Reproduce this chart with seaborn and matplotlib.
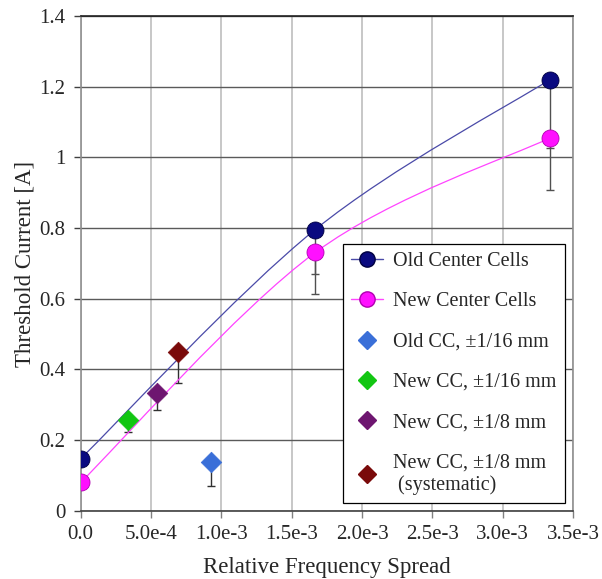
import numpy as np
import seaborn as sns
import matplotlib.pyplot as plt
from matplotlib.path import Path
from matplotlib.patches import PathPatch
from matplotlib.lines import Line2D

# center cell measurements
spread_cc = [0.0, 1.667e-3, 3.333e-3]
old_cc = [0.147, 0.796, 1.220]
old_cc_err = [0.0, 0.126, 0.193]
new_cc = [0.080, 0.731, 1.055]
new_cc_err = [0.0, 0.118, 0.146]

# single-point runs with cell tolerances
diamond_labels = ['Old CC, \u00b11/16 mm', 'New CC, \u00b11/16 mm',
                  'New CC, \u00b11/8 mm', 'New CC, \u00b11/8 mm\n (systematic)']
diamond_x = [9.23e-4, 3.38e-4, 5.40e-4, 6.93e-4]
diamond_y = [0.139, 0.257, 0.332, 0.448]
diamond_err = [0.068, 0.035, 0.047, 0.087]
diamond_colors = ['#3A6FD8', '#12C612', '#6E1670', '#7A0A0A']

x_ticks = [0.0, 5e-4, 1e-3, 1.5e-3, 2e-3, 2.5e-3, 3e-3, 3.5e-3]
x_tick_labels = ['0.0', '5.0e-4', '1.0e-3', '1.5e-3', '2.0e-3', '2.5e-3', '3.0e-3', '3.5e-3']
y_ticks = [0, 0.2, 0.4, 0.6, 0.8, 1.0, 1.2, 1.4]
y_tick_labels = ['0', '0.2', '0.4', '0.6', '0.8', '1', '1.2', '1.4']

sns.set_theme(style='white')
plt.rcParams['font.family'] = ['Liberation Serif', 'DejaVu Serif']

fig = plt.figure(figsize=(6.02, 5.79), dpi=100)
ax = fig.add_axes([0.134, 0.118, 0.818, 0.854])


def smooth_path(xs, ys):
    # excel-style smoothed line (bezier through the points)
    pts = np.column_stack([xs, ys])
    n = len(pts)
    verts = [pts[0]]
    codes = [Path.MOVETO]
    for i in range(n - 1):
        p_prev = pts[max(i - 1, 0)]
        p_next2 = pts[min(i + 2, n - 1)]
        c1 = pts[i] + (pts[i + 1] - p_prev) / 6
        c2 = pts[i + 1] - (p_next2 - pts[i]) / 6
        verts += [c1, c2, pts[i + 1]]
        codes += [Path.CURVE4] * 3
    return Path(verts, codes)


ax.add_patch(PathPatch(smooth_path(spread_cc, old_cc), fill=False,
                       edgecolor='#4A4AA8', lw=0.9, zorder=3))
ax.add_patch(PathPatch(smooth_path(spread_cc, new_cc), fill=False,
                       edgecolor='#FF44FF', lw=0.9, zorder=3))

# lower error bars only
ax.errorbar(spread_cc, old_cc, yerr=[old_cc_err, [0] * 3], fmt='none',
            ecolor='#505050', elinewidth=1, capsize=3, zorder=2)
ax.errorbar(spread_cc, new_cc, yerr=[new_cc_err, [0] * 3], fmt='none',
            ecolor='#505050', elinewidth=1, capsize=3, zorder=2)
ax.errorbar(diamond_x, diamond_y, yerr=[diamond_err, [0] * 4], fmt='none',
            ecolor='#303030', elinewidth=1, capsize=3, zorder=2)

sns.scatterplot(x=spread_cc, y=old_cc, ax=ax, color='#0A0A80', s=150,
                edgecolor='#000040', linewidth=0.6, zorder=5)
sns.scatterplot(x=spread_cc, y=new_cc, ax=ax, color='#FF10FF', s=150,
                edgecolor='#B000B0', linewidth=0.6, zorder=5)
for xv, yv, c in zip(diamond_x, diamond_y, diamond_colors):
    sns.scatterplot(x=[xv], y=[yv], ax=ax, color=c, marker='D', s=110,
                    edgecolor=c, linewidth=0.5, zorder=5)

ax.set_xlim(0, 3.5e-3)
ax.set_ylim(0, 1.4)
ax.set_xticks(x_ticks)
ax.set_xticklabels(x_tick_labels)
ax.set_yticks(y_ticks)
ax.set_yticklabels(y_tick_labels)
ax.tick_params(axis='x', which='both', direction='out', length=5, width=1,
               color='#808080', labelsize=15, pad=5, bottom=True)
ax.tick_params(axis='y', which='both', direction='out', length=5, width=1,
               color='#404040', labelsize=15, pad=6, left=True)

for xv in x_ticks:
    ax.axvline(xv, color='#BDBDBD', lw=1.2, zorder=0)
for yv in y_ticks:
    ax.axhline(yv, color='#5A5A5A', lw=1.0, zorder=1)

ax.spines['top'].set_color('#202020')
ax.spines['bottom'].set_color('#404040')
ax.spines['left'].set_color('#909090')
ax.spines['right'].set_color('#909090')
for s in ax.spines.values():
    s.set_linewidth(1.2)

ax.set_xlabel('Relative Frequency Spread', fontsize=16.5, labelpad=10)
ax.set_ylabel('Threshold Current [A]', fontsize=16.5, labelpad=3)

handles = [
    Line2D([], [], color='#4A4AA8', lw=1, marker='o', markersize=11,
           markerfacecolor='#0A0A80', markeredgecolor='#000040'),
    Line2D([], [], color='#FF44FF', lw=1, marker='o', markersize=11,
           markerfacecolor='#FF10FF', markeredgecolor='#B000B0'),
]
for c in diamond_colors:
    handles.append(Line2D([], [], ls='none', marker='D', markersize=9,
                          markerfacecolor=c, markeredgecolor=c))
labels = ['Old Center Cells', 'New Center Cells'] + diamond_labels
leg = ax.legend(handles, labels, loc='lower right', bbox_to_anchor=(0.983, 0.0156),
                fontsize=14.5, frameon=True, fancybox=False, framealpha=1,
                edgecolor='black', labelspacing=1.05, handlelength=1.6,
                borderpad=0.4, handletextpad=0.5, borderaxespad=0)
leg.get_frame().set_linewidth(0.9)
leg.set_zorder(10)

fig.savefig('out.png', dpi=100)
